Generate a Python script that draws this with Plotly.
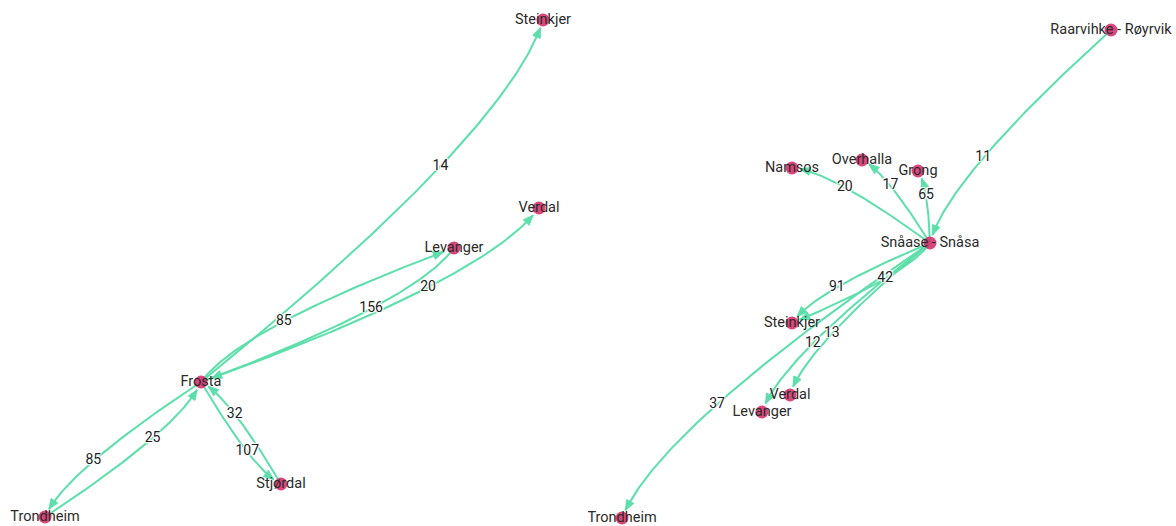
import numpy as np
import plotly.graph_objects as go

# ---------------- data ----------------
# Left network: flows around Frosta (node layout coordinates)
left_nodes = ["Steinkjer", "Verdal", "Levanger", "Frosta", "Stjørdal", "Trondheim"]
left_x = [543, 539, 454, 201, 281, 45]
left_y = [20, 208, 248, 382, 484, 517]
left_src = ["Frosta", "Frosta", "Levanger", "Frosta", "Frosta", "Trondheim", "Frosta", "Stjørdal"]
left_dst = ["Steinkjer", "Levanger", "Frosta", "Verdal", "Trondheim", "Frosta", "Stjørdal", "Frosta"]
left_w = [14, 85, 156, 20, 85, 25, 107, 32]

# Right network: flows around Snåase - Snåsa
right_nodes = ["Raarvihke - Røyrvik", "Namsos", "Overhalla", "Grong", "Snåase - Snåsa",
               "Steinkjer", "Verdal", "Levanger", "Trondheim"]
right_x = [523, 204, 274, 330, 342, 204, 202, 174, 34]
right_y = [30, 168, 160, 171, 243, 323, 395, 412, 518]
right_src = ["Raarvihke - Røyrvik", "Snåase - Snåsa", "Snåase - Snåsa", "Snåase - Snåsa",
             "Snåase - Snåsa", "Snåase - Snåsa", "Snåase - Snåsa", "Snåase - Snåsa", "Snåase - Snåsa"]
right_dst = ["Snåase - Snåsa", "Namsos", "Overhalla", "Grong", "Steinkjer", "Steinkjer",
             "Verdal", "Levanger", "Trondheim"]
right_w = [11, 20, 17, 65, 91, 42, 13, 12, 37]

# ---------------- style ----------------
left_flip = [False, True, True, False, False, False, False, False]
right_flip = [False, False, False, False, False, True, False, False, False]
ALONG, PERP = 0.145, 0.052
EDGE_COLOR = "#5ddfab"
NODE_COLOR = "rgba(214,45,105,0.88)"
FONT = "Roboto, 'Noto Sans', sans-serif"
TIP_R, HEAD_L, HEAD_W = 8.0, 10.0, 4.0


def edge_geometry(nodes, xs, ys, src, dst, flip):
    pos = {n: np.array([x, y], float) for n, x, y in zip(nodes, xs, ys)}
    lx, ly, ax_, ay_, mx, my = [], [], [], [], [], []
    for s, t, f in zip(src, dst, flip):
        a, b = (pos[t], pos[s]) if f else (pos[s], pos[t])
        d = b - a
        L = np.hypot(*d)
        u = d / L
        n = np.array([-u[1], u[0]])
        mid = (a + b) / 2
        M = mid + L * (ALONG * u + PERP * n)
        C = 2 * M - mid
        tt = np.linspace(0, 1, 120)[:, None]
        pts = (1 - tt) ** 2 * a + 2 * tt * (1 - tt) * C + tt ** 2 * b
        if f:
            pts = pts[::-1]
        tgt = pos[t]
        dist = np.hypot(*(pts - tgt).T)
        idx = np.where(dist >= TIP_R)[0][-1]
        tip = pts[idx]
        back = pts[max(idx - 6, 0)]
        dv = tip - back
        dv /= np.hypot(*dv)
        nv = np.array([-dv[1], dv[0]])
        base = tip - HEAD_L * dv
        line = pts[: idx + 1]
        lx += list(line[:, 0]) + [None]
        ly += list(line[:, 1]) + [None]
        tri = [tip, base + HEAD_W * nv, base - HEAD_W * nv, tip]
        ax_ += [p[0] for p in tri] + [None]
        ay_ += [p[1] for p in tri] + [None]
        mx.append(M[0])
        my.append(M[1])
    return lx, ly, ax_, ay_, mx, my


fig = go.Figure()
shadow = "1px 1px 1px white, -1px -1px 1px white, 1px -1px 1px white, -1px 1px 1px white, 0 0 2px white"

for (nodes, xs, ys, src, dst, w, flip, xa) in [
    (left_nodes, left_x, left_y, left_src, left_dst, left_w, left_flip, "x"),
    (right_nodes, right_x, right_y, right_src, right_dst, right_w, right_flip, "x2"),
]:
    lx, ly, axx, ayy, mx, my = edge_geometry(nodes, xs, ys, src, dst, flip)
    fig.add_trace(go.Scatter(x=lx, y=ly, mode="lines", xaxis=xa, yaxis="y",
                             line=dict(color=EDGE_COLOR, width=2), hoverinfo="skip"))
    fig.add_trace(go.Scatter(x=axx, y=ayy, mode="lines", fill="toself", fillcolor=EDGE_COLOR,
                             xaxis=xa, yaxis="y", line=dict(color=EDGE_COLOR, width=1),
                             hoverinfo="skip"))
    fig.add_trace(go.Scatter(x=mx, y=my, mode="text", text=[str(v) for v in w],
                             xaxis=xa, yaxis="y",
                             textfont=dict(family=FONT, size=14, color="#222222", shadow=shadow),
                             hoverinfo="skip"))
    fig.add_trace(go.Scatter(x=xs, y=ys, mode="markers+text", text=nodes,
                             textposition="middle center", xaxis=xa, yaxis="y",
                             marker=dict(size=13, color=NODE_COLOR, line=dict(width=0)),
                             textfont=dict(family=FONT, size=14.5, color="#2b2b2b"),
                             hoverinfo="text"))

ax_common = dict(visible=False, range=[0, 588], fixedrange=True)
fig.update_layout(
    width=1176, height=526,
    margin=dict(l=0, r=0, t=0, b=0),
    paper_bgcolor="white", plot_bgcolor="white",
    showlegend=False,
    xaxis=dict(domain=[0, 0.5], **ax_common),
    xaxis2=dict(domain=[0.5, 1], **ax_common),
    yaxis=dict(visible=False, range=[526, 0], fixedrange=True),
)

fig.write_html("out.html", config={"displayModeBar": False},
               post_script="document.body.style.margin='0';")
